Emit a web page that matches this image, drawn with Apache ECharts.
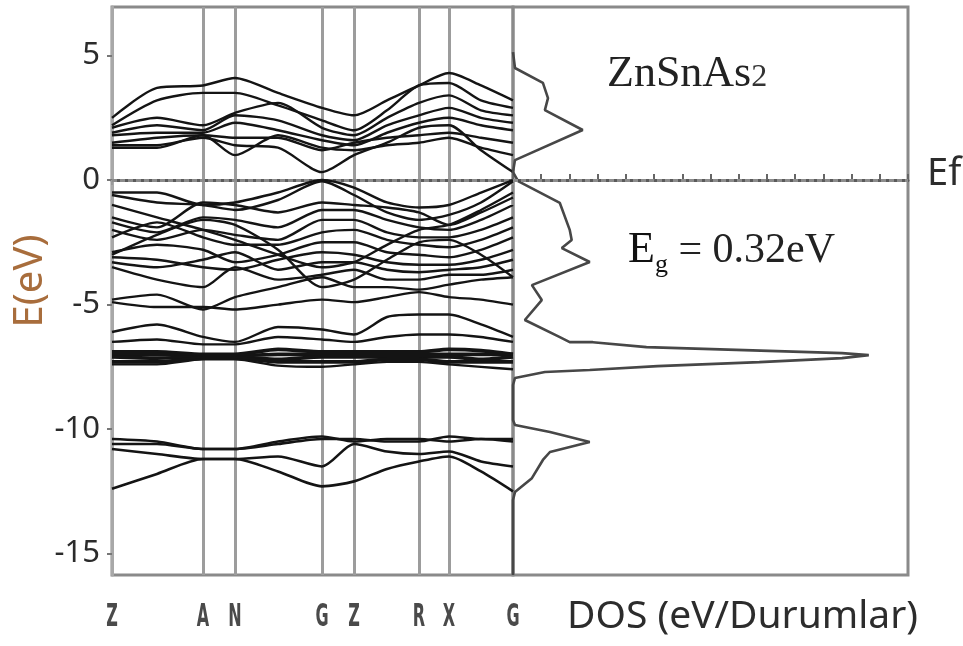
<!DOCTYPE html>
<html>
<head>
<meta charset="utf-8">
<script src="https://cdn.jsdelivr.net/npm/echarts@6/dist/echarts.min.js"></script>
<style>
  html, body { margin: 0; padding: 0; background: #fff; }
  #chart { width: 963px; height: 646px; }
</style>
</head>
<body>
<div id="chart"></div>
<script>
// k-path positions of the sampled points (distance along Z-A-N-G-Z-R-X-G)
var kPoints = [0, 45, 91, 123, 166, 210, 242, 275, 307, 337, 369, 401];
// high-symmetry points and their labels
var symPoints = [0, 91, 123, 210, 242, 307, 337, 401];
var symLabels = ['Z', 'A', 'N', 'G', 'Z', 'R', 'X', 'G'];

// conduction bands (eV) at each k point
var conductionBands = [
  [2.5, 3.7, 3.8, 4.1, 3.5, 2.9, 2.6, 3.2, 3.8, 4.3, 3.8, 3.2],
  [2.2, 3.2, 3.5, 3.5, 3.0, 2.4, 2.0, 2.8, 3.8, 3.9, 3.2, 2.9],
  [2.1, 2.5, 2.2, 2.7, 3.1, 2.1, 1.8, 2.5, 3.1, 3.4, 2.8, 2.6],
  [1.9, 2.2, 2.0, 2.6, 2.4, 1.8, 1.6, 2.2, 2.6, 2.9, 2.5, 2.3],
  [1.8, 1.9, 1.9, 2.3, 2.0, 1.6, 1.4, 1.9, 2.3, 2.5, 2.2, 2.0],
  [1.5, 1.7, 1.8, 1.7, 1.7, 1.2, 1.5, 1.7, 1.8, 1.9, 1.7, 1.5],
  [1.3, 1.3, 1.8, 1.0, 1.8, 1.3, 1.2, 1.4, 1.5, 1.7, 1.3, 1.0],
  [1.4, 1.4, 1.7, 1.4, 1.3, 0.32, 1.0, 1.5, 2.1, 2.2, 1.2, 0.32]
];

// upper valence bands (eV)
var valenceBands = [
  [-0.5, -0.5, -1.0, -0.9, -0.5, 0.0, -0.3, -0.9, -1.1, -1.0, -0.5, 0.0],
  [-0.6, -0.9, -1.0, -1.2, -0.8, -0.05, -0.6, -1.3, -1.6, -1.4, -0.9, -0.05],
  [-1.5, -1.9, -0.9, -1.0, -1.3, -0.9, -1.0, -1.1, -1.3, -1.8, -1.3, -0.7],
  [-1.7, -2.1, -1.5, -1.6, -1.9, -1.2, -1.2, -1.6, -1.9, -2.0, -1.6, -1.0],
  [-2.0, -2.4, -2.0, -2.2, -2.4, -1.6, -1.6, -2.1, -2.3, -2.3, -2.0, -1.5],
  [-2.3, -1.7, -2.3, -2.6, -2.6, -2.1, -2.0, -2.4, -2.6, -2.7, -2.4, -1.9],
  [-2.9, -2.6, -2.8, -3.3, -3.0, -2.5, -2.5, -2.9, -3.0, -3.1, -2.8, -2.3],
  [-3.1, -3.2, -3.5, -3.6, -3.2, -2.9, -3.0, -3.3, -3.4, -3.4, -3.2, -2.8],
  [-3.3, -3.5, -3.2, -2.9, -3.6, -3.3, -3.3, -3.6, -3.7, -3.6, -3.5, -3.2],
  [-3.5, -4.0, -4.3, -3.5, -4.0, -3.8, -3.6, -4.0, -4.0, -3.8, -3.8, -3.6],
  [-4.8, -4.6, -5.2, -4.7, -4.3, -3.9, -4.3, -4.3, -4.4, -4.2, -4.0, -3.9],
  [-4.9, -5.1, -5.1, -5.2, -5.0, -4.8, -4.9, -4.7, -4.5, -4.7, -4.8, -5.0],
  [-1.0, -1.5, -2.0, -2.4, -3.0, -3.5, -3.3, -2.6, -2.0, -1.8, -1.2, -0.5],
  [-3.0, -2.2, -1.6, -1.8, -2.8, -4.3, -4.0, -3.2, -2.5, -2.4, -3.0, -3.9]
];

// lower valence / d-like bands around -7 eV
var dBands = [
  [-6.1, -5.8, -6.3, -6.5, -5.9, -6.0, -6.2, -5.5, -5.4, -5.4, -5.8, -6.3],
  [-6.5, -6.4, -6.6, -6.6, -6.3, -6.4, -6.5, -6.3, -6.2, -6.2, -6.3, -6.5],
  [-6.9, -6.9, -7.0, -7.0, -6.8, -6.9, -6.9, -6.9, -6.9, -6.8, -6.85, -7.0],
  [-7.0, -7.0, -7.05, -7.05, -7.0, -7.0, -7.0, -7.0, -7.0, -7.0, -7.0, -7.0],
  [-7.1, -7.15, -7.1, -7.1, -7.2, -7.1, -7.1, -7.1, -7.1, -7.1, -7.2, -7.1],
  [-7.3, -7.3, -7.15, -7.15, -7.3, -7.3, -7.3, -7.2, -7.2, -7.3, -7.3, -7.3],
  [-7.4, -7.4, -7.2, -7.2, -7.45, -7.5, -7.4, -7.3, -7.3, -7.4, -7.5, -7.6]
];

// semicore bands around -10 to -12.5 eV
var semicoreBands = [
  [-10.4, -10.5, -10.8, -10.8, -10.6, -10.4, -10.4, -10.5, -10.5, -10.3, -10.4, -10.4],
  [-10.6, -10.6, -10.8, -10.8, -10.5, -10.3, -10.5, -10.4, -10.4, -10.5, -10.4, -10.5],
  [-10.8, -11.0, -11.2, -11.2, -11.1, -11.5, -10.6, -10.9, -11.0, -10.9, -11.3, -11.5],
  [-12.4, -11.8, -11.2, -11.2, -11.7, -12.3, -12.1, -11.6, -11.3, -11.1, -11.7, -12.5]
];

// total density of states: energy (eV) and DOS value
var dosEnergy = [5.14, 4.5, 3.9, 3.29, 2.81, 2.01, 0.80, 0.32, -0.04, -0.92, -2.0, -2.41, -2.73, -3.29,
  -4.22, -4.82, -5.62, -6.31, -6.51, -6.51, -6.71, -6.83, -6.95, -7.03, -7.15, -7.31, -7.47, -7.63,
  -7.71, -7.95, -8.23, -9.64, -9.84, -10.12, -10.52, -10.92, -11.24, -11.97, -12.53, -12.85, -15.86];
var dosValue = [0, 0.07, 1.06, 1.24, 1.13, 2.47, 0.07, 0, 0.18, 1.66, 2.01, 2.08, 1.73, 2.72,
  0.67, 1.02, 0.42, 1.66, 2.01, 2.83, 4.73, 8.2, 11.66, 12.61, 11.66, 8.73, 5.12, 2.72,
  1.13, 0.07, 0, 0, 0.07, 1.31, 2.72, 1.31, 1.06, 0.67, 0.07, 0, 0];

var yTicks = [-15, -10, -5, 0, 5];
var eMin = -15.86, eMax = 6.95;

var chart = echarts.init(document.getElementById('chart'), null, { renderer: 'canvas' });

function bandSeries(band, width) {
  return {
    type: 'line',
    xAxisIndex: 0,
    yAxisIndex: 0,
    data: band.map(function (e, j) { return [kPoints[j], e]; }),
    showSymbol: false,
    smooth: 0.25,
    silent: true,
    z: 3,
    lineStyle: { color: '#141414', width: width }
  };
}

var series = []
  .concat(conductionBands.map(function (b) { return bandSeries(b, 2.4); }))
  .concat(valenceBands.map(function (b) { return bandSeries(b, 2.4); }))
  .concat(dBands.map(function (b, i) { return bandSeries(b, i >= 2 && i <= 5 ? 3.6 : 2.4); }))
  .concat(semicoreBands.map(function (b) { return bandSeries(b, 2.6); }));

// vertical high-symmetry lines and the Fermi level in the band panel
series[0].markLine = {
  silent: true,
  symbol: ['none', 'none'],
  label: { show: false },
  data: symPoints.slice(1, 7).map(function (k) {
    return { xAxis: k, lineStyle: { color: '#9c9c9c', width: 3, type: 'solid' } };
  }).concat([{ yAxis: 0, lineStyle: { color: '#8c8c8c', width: 3, type: [5, 3] } }]),
  z: 2
};

series.push({
  type: 'line',
  xAxisIndex: 1,
  yAxisIndex: 1,
  data: dosEnergy.map(function (e, i) { return [dosValue[i], e]; }),
  showSymbol: false,
  silent: true,
  z: 3,
  lineStyle: { color: '#474747', width: 2.6 },
  markLine: {
    silent: true,
    symbol: ['none', 'none'],
    label: { show: false },
    data: [{ yAxis: 0 }],
    lineStyle: { color: '#8c8c8c', width: 3, type: [5, 3] }
  }
});

var labelFont = "'Noto Sans', 'Open Sans', sans-serif";
var serif = "'Liberation Serif', 'DejaVu Serif', serif";

var textGraphics = [
  {
    id: 'formula', type: 'text', left: 607, top: 52,
    style: {
      text: '{a|ZnSnAs}{b|2}',
      rich: {
        a: { fontFamily: serif, fontSize: 44, fill: '#222', verticalAlign: 'bottom' },
        b: { fontFamily: serif, fontSize: 32, fill: '#333', verticalAlign: 'bottom', padding: [0, 0, 2, 0] }
      }
    }
  },
  {
    id: 'gap', type: 'text', left: 628, top: 228,
    style: {
      text: '{e|E}{g|g}{r| = 0.32eV}',
      rich: {
        e: { fontFamily: serif, fontSize: 44, fill: '#111', verticalAlign: 'bottom' },
        g: { fontFamily: serif, fontSize: 26, fill: '#111', verticalAlign: 'bottom', padding: [0, 0, -6, 0] },
        r: { fontFamily: serif, fontSize: 42, fill: '#222', verticalAlign: 'bottom' }
      }
    }
  },
  {
    id: 'fermi', type: 'text', left: 927, top: 155,
    style: { text: 'Ef', fontFamily: labelFont, fontSize: 38, fill: '#2c2c2c' }
  }
];

chart.setOption({
  animation: false,
  backgroundColor: '#ffffff',
  grid: [
    { left: 112, top: 7, width: 401, height: 568, show: true, borderColor: '#8a8a8a', borderWidth: 3 },
    { left: 513, top: 7, width: 395, height: 568, show: true, borderColor: '#8a8a8a', borderWidth: 3 }
  ],
  xAxis: [
    {
      type: 'value', gridIndex: 0, min: 0, max: 401,
      axisLine: { show: true, lineStyle: { color: '#5a5a5a', width: 3 } },
      axisTick: { show: true, customValues: symPoints, length: 5, inside: false, lineStyle: { color: '#999', width: 2 } },
      axisLabel: { show: false },
      splitLine: { show: false }
    },
    {
      type: 'value', gridIndex: 1, min: 0, max: 14, interval: 1,
      name: 'DOS (eV/Durumlar)', nameLocation: 'middle', nameGap: 22,
      nameTextStyle: { fontSize: 39, color: '#2c2c2c', fontFamily: labelFont, padding: [0, 0, 0, 64] },
      axisLine: { show: true, lineStyle: { color: '#5a5a5a', width: 3 } },
      axisTick: { show: true, inside: true, length: 6, lineStyle: { color: '#666', width: 2 } },
      axisLabel: { show: false },
      splitLine: { show: false }
    }
  ],
  yAxis: [
    {
      type: 'value', gridIndex: 0, min: eMin, max: eMax,
      name: 'E(eV)', nameLocation: 'middle', nameRotate: 90, nameGap: 60,
      nameTextStyle: { fontSize: 40, color: '#a86d3c', fontFamily: labelFont, padding: [0, 0, 0, 20] },
      axisLine: { show: true, lineStyle: { color: '#a8a8a8', width: 3 } },
      axisTick: { show: true, customValues: yTicks, length: 5, lineStyle: { color: '#777', width: 2 } },
      axisLabel: {
        customValues: yTicks, margin: 12, color: '#2b2b2b', fontSize: 31, fontFamily: labelFont,
        formatter: function (v) { return String(v); }
      },
      splitLine: { show: false }
    },
    {
      type: 'value', gridIndex: 1, min: eMin, max: eMax,
      axisLine: { show: false }, axisTick: { show: false }, axisLabel: { show: false },
      splitLine: { show: false }
    }
  ],
  graphic: textGraphics,
  series: series
});

// narrow high-symmetry point labels placed under the k axis
var kLabelGraphics = symPoints.map(function (k, i) {
  var px = chart.convertToPixel({ xAxisIndex: 0 }, k);
  return {
    id: 'klabel' + i, type: 'text', x: px, y: 618, scaleX: 0.5, silent: true,
    style: {
      text: symLabels[i], x: 0, y: 0, align: 'center', verticalAlign: 'middle',
      fontFamily: "'DejaVu Sans', sans-serif", fontSize: 32, fontWeight: 'bold', fill: '#4a4a4a'
    }
  };
});
chart.setOption({ graphic: textGraphics.concat(kLabelGraphics) });
</script>
</body>
</html>
